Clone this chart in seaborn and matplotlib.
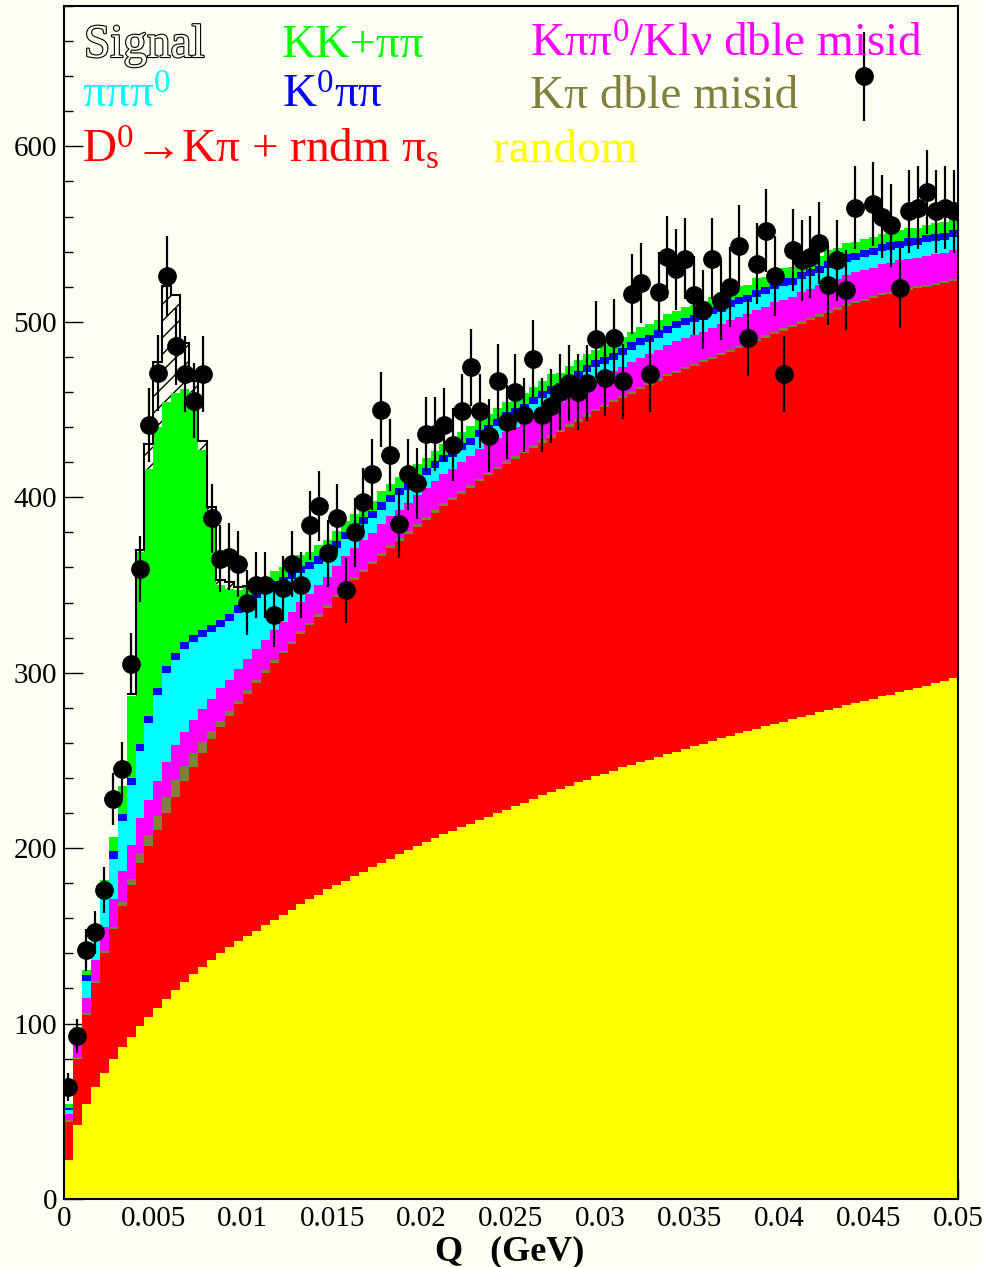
import numpy as np
import pandas as pd
import matplotlib
matplotlib.use('Agg')
import matplotlib.pyplot as plt
import matplotlib.patheffects as pe
from matplotlib.ticker import MultipleLocator, FuncFormatter
from matplotlib.colors import to_rgb
import seaborn as sns

# 100 bins of Q between 0 and 0.05 GeV
q_min, q_max, n_bins = 0.0, 0.05, 100

# data (events per bin)
data = [64, 93, 142, 152, 176, 228, 245, 305, 359, 441,
        471, 526, 486, 470, 455, 470, 388, 365, 366, 362,
        340, 350, 350, 333, 348, 362, 350, 384, 395, 368,
        388, 347, 380, 397, 413, 450, 424, 385, 413, 408,
        436, 436, 441, 430, 449, 474, 449, 435, 466, 443,
        460, 447, 479, 447, 452, 460, 465, 460, 465, 490,
        468, 491, 466, 516, 522, 470, 517, 537, 530, 536,
        515, 507, 536, 512, 520, 543, 491, 533, 552, 526,
        470, 541, 535, 537, 545, 521, 535, 518, 565, 640,
        567, 560, 555, 519, 563, 565, 574, 563, 565, 563]

# MC components (events per bin), bottom to top
random_bg = [22, 42, 54, 64, 72, 80, 86.5, 92.5, 98.5, 104,
             109, 114, 119, 123.5, 128, 132, 136, 140, 143.5, 147,
             150, 153, 156, 159, 162, 165, 168, 171, 173.5, 176.5,
             179, 181.5, 184, 186.5, 189, 191.5, 194, 196.5, 199, 201,
             203.5, 205.5, 208, 210, 212, 214, 216, 218, 220, 222,
             224, 226, 228, 230, 232, 233.5, 235.5, 237.5, 239, 241,
             242.5, 244, 246, 247.5, 249, 250.5, 252, 253.5, 255, 256.5,
             258, 259.5, 261, 262.5, 264, 265.5, 266.5, 268, 269.5, 271,
             272, 273.5, 275, 276, 277.5, 279, 280, 281.5, 282.5, 284,
             285, 286.5, 287.5, 289, 290, 291.5, 292.5, 294, 295, 297]

d0_rndm_pis = [22, 38, 51, 59, 68, 74, 80.5, 86.5, 93, 97,
               101.5, 106, 110, 114.5, 118.5, 122.5, 126, 129, 132, 135,
               138, 141, 144, 146.5, 149, 151.5, 154, 156, 158.5, 160.5,
               164, 166.5, 169, 171, 173, 175, 177, 178.5, 180, 182,
               183.5, 185.5, 187, 188.5, 190, 191.5, 193, 194.5, 196, 197,
               198, 199, 200, 201, 202, 203.5, 204.5, 205.5, 207, 208,
               209, 210, 210.5, 211.5, 212.5, 213.5, 214.5, 215.5, 216, 216.5,
               217, 217.5, 218, 218.5, 219, 219.5, 220.5, 221, 221.5, 222,
               223, 223.5, 224, 225, 225.5, 226, 227, 227.5, 228, 228,
               228.5, 228.5, 228.5, 228, 228, 227.5, 227.5, 227, 227, 226]

kpi_misid = [0.8, 1, 1, 1, 1.2, 1, 2.2, 3.4, 5.5, 6.5,
             8, 9, 10, 9, 7.5, 6, 4.5, 3.5, 2.5, 2,
             2, 2, 1.8, 1.7, 1.5, 1.5, 1.5, 1.5, 1.5, 1.5,
             1.5, 1.5, 1.5, 1.5, 1.5, 1.5, 1.5, 1.5, 1.5, 1.5,
             1.5, 1.5, 1.5, 1.5, 1.5, 1.5, 1.5, 1.5, 1.5, 1.5,
             1.5, 1.5, 1.5, 1.5, 1.5, 1.5, 1.5, 1.5, 1.5, 1.5,
             1.2, 1.2, 1.2, 1.2, 1.2, 1.2, 1.2, 1.2, 1.2, 1.2,
             1.2, 1.2, 1.2, 1.2, 1.2, 1.2, 1.2, 1.2, 1.2, 1.2,
             1.2, 1.2, 1.2, 1.2, 1.2, 1.2, 1.2, 1.2, 1.2, 1.2,
             1.2, 1.2, 1.2, 1.2, 1.2, 1.2, 1.2, 1.2, 1.2, 1.2]

kpipi0_misid = [3.5, 7.5, 8.5, 12, 14, 16, 17.7, 19.6, 20, 20,
                20, 20, 19.5, 19, 19, 19, 18.5, 18.5, 18, 18,
                18, 17.5, 17, 17, 16.5, 16.5, 17, 16.5, 16.5, 16,
                16.5, 17, 16.5, 16.5, 16, 16.5, 17, 16.5, 16, 16.5,
                16.5, 17, 16.5, 16, 16.5, 16.5, 17, 16, 16.5, 16.5,
                16.5, 16, 16.5, 17, 16.5, 16, 16.5, 16.5, 17, 16.5,
                16, 16.5, 16.5, 17, 16.5, 16.5, 16, 16.5, 17, 16.5,
                16.5, 16, 16.5, 16.5, 17, 16.5, 16, 16.5, 16.5, 17,
                16.5, 16, 16.5, 16.5, 16.5, 17, 16, 16.5, 16.5, 16.5,
                16, 16.5, 16.5, 17, 16.5, 16, 16.5, 16.5, 16, 16.5]

pipipi0 = [2.5, 5, 9.5, 12, 19, 23, 28.6, 34, 38.4, 43.6,
           48.8, 51, 49, 47.4, 44.7, 40.7, 38, 35, 33.6, 32.3,
           31, 29, 26.5, 24, 21.5, 19, 16.5, 14, 12, 11,
           10, 9.5, 9, 9, 8.5, 8.5, 8, 8, 7.5, 7.5,
           7.5, 7, 7, 7, 7, 6.5, 7, 7, 6.5, 7,
           7, 6.5, 7, 7, 7, 6.5, 7, 7, 7, 7,
           7, 6.5, 7, 7, 7.5, 7, 7, 7, 7, 7.5,
           7, 7, 7.5, 7, 7, 7.5, 7, 7.5, 7, 7.5,
           7.5, 7, 7.5, 7.5, 7, 7.5, 7.5, 7.5, 7, 7.5,
           7.5, 7.5, 7.5, 7, 7.5, 7.5, 7.5, 7.5, 7.5, 7.5]

k0pipi = [1.2, 2, 3.4, 2.5, 3, 4.6, 3.7, 4, 4, 4,
          4, 4, 4, 4, 4, 4, 4, 4, 4, 4,
          4, 4, 4, 4, 4, 4, 4, 4, 4.5, 4,
          4, 4, 4.5, 4, 4, 4, 4, 4.5, 4, 4,
          4, 4, 4, 4.5, 4, 4, 4, 4, 4, 4.5,
          4, 4, 4, 4, 4.5, 4, 4, 4, 4, 4,
          4.5, 4, 4, 4, 4, 4, 4.5, 4, 4, 4,
          4, 4, 4, 4.5, 4, 4, 4, 4, 4, 4,
          4.5, 4, 4, 4, 4, 4, 4, 4.5, 4, 4,
          4, 4, 4, 4, 4.5, 4, 4, 4, 4, 4]

kk_pipi = [2, 2.5, 3.2, 4, 4.5, 8, 16, 46.5, 109.3, 141,
           149, 150, 148, 144.4, 138, 103, 64, 20, 14, 9,
           6, 5.5, 5.5, 6, 6, 6, 6, 6, 6.5, 6,
           6, 6.5, 6, 6, 6, 6.5, 6, 6, 6, 6.5,
           6, 6, 6.5, 6, 6, 6.5, 6, 6.5, 6.5, 6,
           6, 6.5, 6, 6, 6.5, 6, 6, 6.5, 6, 6,
           6.5, 6, 6, 6, 6.5, 6, 6, 6.5, 6, 6,
           6, 6.5, 6, 6.5, 6, 6, 6, 6.5, 6, 6,
           6, 6, 6.5, 6, 6, 6, 6.5, 6, 6, 6,
           6, 6, 6, 6, 6, 6, 6, 6, 6, 6]

signal = [0, 0, 0, 0, 0, 0, 0, 1.5, 1.5, 14,
          37, 66.5, 55.5, 26, 6.5, 5, 3.5, 3, 4, 1.5,
          0.5] + [0] * 79

bg = '#fffff4'
names = ['Signal', 'KK+pipi', 'K0pipi', 'pipipi0', 'Kpipi0 misid',
         'Kpi misid', 'D0 rndm pis', 'random']
values = [signal, kk_pipi, k0pipi, pipipi0, kpipi0_misid,
          kpi_misid, d0_rndm_pis, random_bg]
colors = [bg, '#00ff00', '#0000ff', '#00ffff', '#ff00ff',
          '#80803c', '#ff0000', '#ffff00']

edges = np.linspace(q_min, q_max, n_bins + 1)
centers = 0.5 * (edges[:-1] + edges[1:])

df = pd.concat([pd.DataFrame({'Q': centers, 'N': v, 'comp': n})
                for n, v in zip(names, values)], ignore_index=True)

sns.set_theme(style='ticks')
plt.rcParams['font.family'] = ['Liberation Serif', 'DejaVu Serif']
plt.rcParams['mathtext.fontset'] = 'custom'
plt.rcParams['mathtext.rm'] = 'Liberation Serif'
plt.rcParams['mathtext.it'] = 'Liberation Serif:italic'
plt.rcParams['hatch.linewidth'] = 1.0
plt.rcParams['hatch.color'] = 'black'

W, H = 984, 1267
fig = plt.figure(figsize=(W / 100, H / 100), dpi=100, facecolor=bg)
ax = fig.add_axes([64 / W, 1 - 1199 / H, 894 / W, 1193 / H])
ax.set_facecolor(bg)

sns.histplot(data=df, x='Q', weights='N', hue='comp', hue_order=names,
             palette=dict(zip(names, colors)), multiple='stack',
             bins=edges.tolist(), element='step', fill=True, alpha=1,
             linewidth=0, legend=False, ax=ax)

# hatch the signal layer
sig_rgb = to_rgb(bg)
for coll in ax.collections:
    fc = coll.get_facecolor()
    if len(fc) and np.allclose(fc[0][:3], sig_rgb, atol=1e-3):
        coll.set_hatch('//')
        coll.set_edgecolor('black')
        coll.set_linewidth(0)

# outline of the signal on top of the stack
total = np.sum(np.array(values), axis=0)
sig = np.array(signal)
idx = np.nonzero(sig > 0)[0]
lo, hi = idx[0], idx[-1] + 1
ax.stairs(total[lo:hi], edges[lo:hi + 1], baseline=None,
          color='black', linewidth=1.5)

# data points with poisson errors
data = np.array(data, dtype=float)
ax.errorbar(centers, data, yerr=np.sqrt(data), fmt='o', color='black',
            markersize=12.5, elinewidth=1.6, capsize=0, zorder=5)

ax.set_xlim(q_min, q_max)
ax.set_ylim(0, 680)
ax.set_xlabel('')
ax.set_ylabel('')
ax.xaxis.set_major_locator(MultipleLocator(0.005))
ax.xaxis.set_minor_locator(MultipleLocator(0.001))
ax.yaxis.set_major_locator(MultipleLocator(100))
ax.yaxis.set_minor_locator(MultipleLocator(20))
ax.xaxis.set_major_formatter(FuncFormatter(lambda v, p: f'{v:g}'))
ax.tick_params(which='both', direction='in', colors='black',
               labelsize=21, width=1.0, top=False, right=False)
ax.tick_params(which='major', length=13.5, pad=5)
ax.tick_params(which='minor', length=6.5)
ax.grid(False)
for s in ax.spines.values():
    s.set_color('black')
    s.set_linewidth(1.5)

fig.text(510 / W, 1 - 1260 / H, 'Q   (GeV)', ha='center', va='baseline',
         fontsize=26, fontweight='bold', color='black')

# legend texts
fs = 34
def label(x, y, s, c, **kw):
    return fig.text(x / W, 1 - y / H, s, color=c, fontsize=fs,
                    ha='left', va='baseline', **kw)

label(84, 57, 'Signal', bg,
      path_effects=[pe.withStroke(linewidth=1.6, foreground='black')])
label(282, 57, 'KK+ππ', '#00ff00')
label(530, 57, 'Kππ$^0$/Klν dble misid', '#ff00ff')
label(82, 108, 'πππ$^0$', '#00ffff')
label(282, 108, 'K$^0$ππ', '#0000ff')
label(530, 108, 'Kπ dble misid', '#80803c')
label(82, 162, 'D$^0$→Kπ + rndm π$_\\mathrm{s}$', '#ff0000')
label(493, 162, 'random', '#ffff00')

fig.savefig('out.png', dpi=100, facecolor=bg)
